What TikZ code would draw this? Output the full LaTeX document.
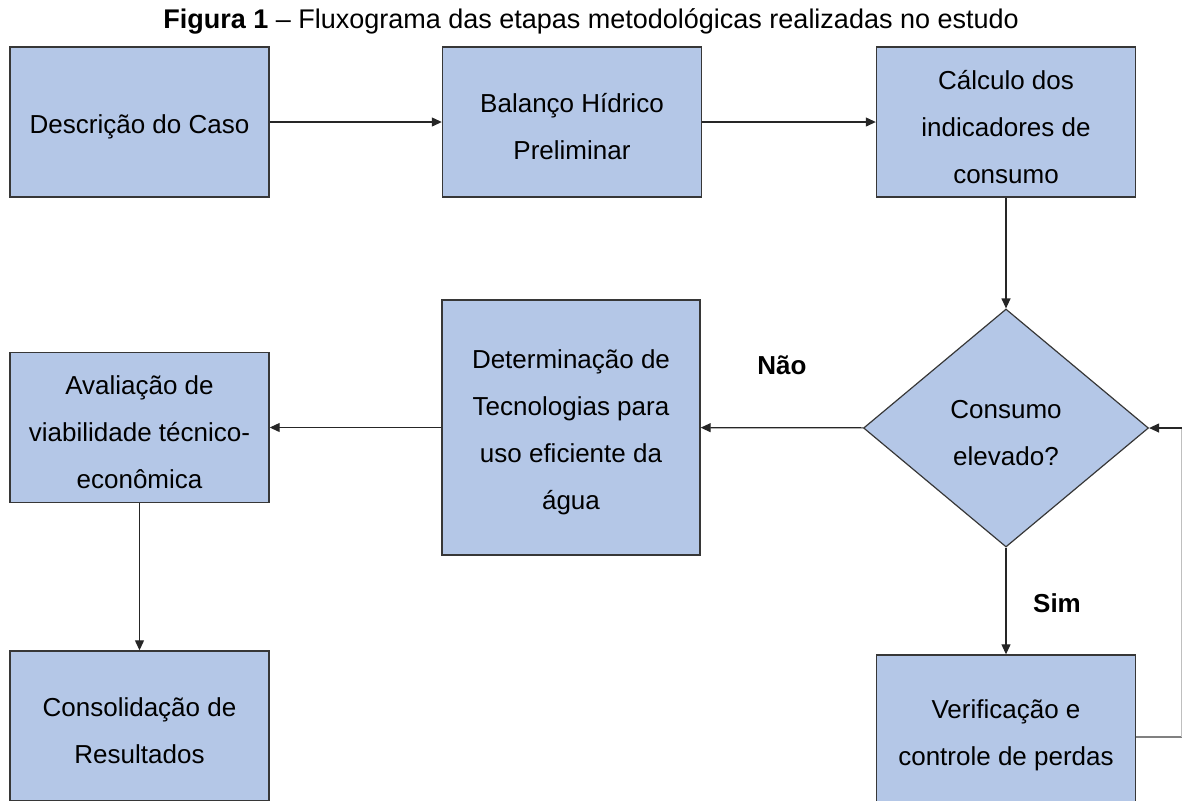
\documentclass[tikz,border=0pt]{standalone}
\usepackage{fontspec}
\setmainfont{Liberation Sans}
\usetikzlibrary{shapes.geometric,arrows.meta}
\definecolor{boxblue}{RGB}{180,199,231}
\definecolor{boxline}{RGB}{55,55,55}
\newcommand{\alto}{\rule{0pt}{14.5pt}}

\begin{document}
\begin{tikzpicture}[x=0.5pt,y=-0.5pt,
  etapa/.style={draw=boxline,fill=boxblue,line width=0.7pt,minimum width=129.5pt,minimum height=75pt,inner sep=0pt,align=center,font=\fontsize{13}{23.5}\selectfont},
  decisao/.style={diamond,draw=boxline,fill=boxblue,line width=0.6pt,minimum width=142.5pt,minimum height=119pt,inner sep=0pt,align=center,font=\fontsize{13}{23.5}\selectfont},
  seta/.style={draw=black!85,line width=0.6pt,-{Triangle[length=5pt,width=4.5pt]}},
  rotulo/.style={font=\fontsize{13}{15}\selectfont\bfseries}]
\useasboundingbox (0,0) rectangle (1182,800);
\node (titulo) at (591,21) {\fontsize{13.5}{16}\selectfont\textbf{Figura 1} -- Fluxograma das etapas metodológicas realizadas no estudo};
\node [etapa] (desc) at (139.5,122) {\alto Descrição do Caso};
\node [etapa] (bal) at (572,122) {\alto Balanço Hídrico\\Preliminar};
\node [etapa] (calc) at (1006,122) {\alto Cálculo dos\\indicadores de\\consumo};
\node [decisao] (dec) at (1006,428) {\alto Consumo\\elevado?};
\node [etapa,minimum width=129pt,minimum height=127.5pt] (tec) at (571,427.5) {\alto Determinação de\\Tecnologias para\\uso eficiente da\\água};
\node [etapa] (aval) at (139.5,427.5) {\alto Avaliação de\\viabilidade técnico-\\econômica};
\node [etapa] (cons) at (139.5,726) {\alto Consolidação de\\Resultados};
\node [etapa] (ver) at (1006,730) {\alto Verificação e\\controle de perdas};
\node [rotulo] (nao) at (782,365) {Não};
\node [rotulo] (sim) at (1057,603) {Sim};
\coordinate (c1) at (1181.5,737);
\coordinate (c2) at (1181.5,428);
\draw [seta] (desc) -- (bal);
\draw [seta] (bal) -- (calc);
\draw [seta] (calc) -- (dec);
\draw [seta] (dec) -- (tec);
\draw [seta] (tec) -- (aval);
\draw [seta] (aval) -- (cons);
\draw [seta] (dec) -- (ver);
\draw [draw=gray,line width=0.8pt] (ver.east |- c1) -- (c1);
\draw [draw=black!25,line width=0.6pt] (c1) -- (c2);
\draw [seta] (c2) -- (dec.east);
\end{tikzpicture}
\end{document}
